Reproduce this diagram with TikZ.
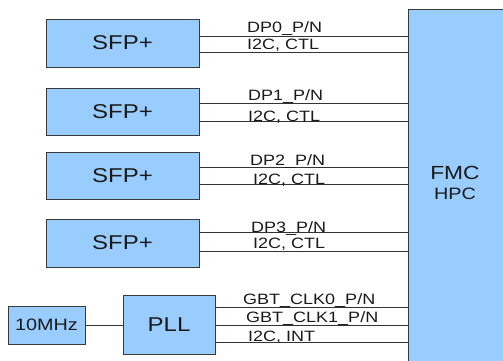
\documentclass[tikz,border=0pt]{standalone}
\usepackage{fontspec}
\setmainfont[FakeStretch=1.2]{Liberation Sans}
\definecolor{boxfill}{HTML}{99CCFF}
\definecolor{boxline}{HTML}{3A3A3A}
\definecolor{wire}{HTML}{333333}
\definecolor{txt}{HTML}{1A1A1A}
\begin{document}
\begin{tikzpicture}[x=1pt,y=-1pt,
  blk/.style={draw=boxline,fill=boxfill,line width=1pt,inner sep=0pt,text=txt},
  sfpbox/.style={blk,minimum width=153pt,minimum height=48pt,font=\fontsize{20}{20}\selectfont},
  wirestyle/.style={draw=wire,line width=0.8pt},
  lbl/.style={anchor=base west,inner sep=0pt,text=txt,font=\fontsize{15}{15}\selectfont}]
\useasboundingbox (0,0) rectangle (503,360);
\clip (0,0) rectangle (503,360);
\fill[white] (0,0) rectangle (503,360);
% FMC
\node[blk,anchor=north west,minimum width=100pt,minimum height=356pt] (fmc) at (408,9) {};
\node[text=txt,font=\fontsize{19}{19}\selectfont,anchor=base,inner sep=0pt] (fmct) at (455,179) {FMC};
\node[text=txt,font=\fontsize{16.5}{16.5}\selectfont,anchor=base,inner sep=0pt] (hpct) at (455,199) {HPC};
% SFP boxes
\node[sfpbox] (sfp1) at (122.5,43) {SFP+};
\node[sfpbox,minimum height=47pt] (sfp2) at (122.5,111.5) {SFP+};
\node[sfpbox,minimum height=47pt] (sfp3) at (122.5,175.5) {SFP+};
\node[sfpbox] (sfp4) at (122.5,243) {SFP+};
% clock
\node[blk,minimum width=77pt,minimum height=38pt,font=\fontsize{16.5}{16.5}\selectfont] (osc) at (46.5,325) {10MHz};
\node[blk,minimum width=92pt,minimum height=59pt,font=\fontsize{20}{20}\selectfont] (pll) at (169,324.5) {PLL};
% wires
\draw[wirestyle] (sfp1.east |- 0,36) -- (fmc.west |- 0,36);
\draw[wirestyle] (sfp1.east |- 0,52) -- (fmc.west |- 0,52);
\draw[wirestyle] (sfp2.east |- 0,103) -- (fmc.west |- 0,103);
\draw[wirestyle] (sfp2.east |- 0,121) -- (fmc.west |- 0,121);
\draw[wirestyle] (sfp3.east |- 0,167) -- (fmc.west |- 0,167);
\draw[wirestyle] (sfp3.east |- 0,184) -- (fmc.west |- 0,184);
\draw[wirestyle] (sfp4.east |- 0,232) -- (fmc.west |- 0,232);
\draw[wirestyle] (sfp4.east |- 0,251) -- (fmc.west |- 0,251);
\draw[wirestyle] (pll.east |- 0,307) -- (fmc.west |- 0,307);
\draw[wirestyle] (pll.east |- 0,325) -- (fmc.west |- 0,325);
\draw[wirestyle] (pll.east |- 0,342) -- (fmc.west |- 0,342);
\draw[wirestyle] (osc.east) -- (pll.west |- osc.east);
% labels
\node[lbl] (l1a) at (247,32) {DP0\_P/N};
\node[lbl] (l1b) at (247,49) {I2C, CTL};
\node[lbl] (l2a) at (248,100) {DP1\_P/N};
\node[lbl] (l2b) at (248,121) {I2C, CTL};
\node[lbl] (l3a) at (250,165) {DP2\_P/N};
\node[lbl] (l3b) at (253,184) {I2C, CTL};
\node[lbl] (l4a) at (251,232) {DP3\_P/N};
\node[lbl] (l4b) at (253,248) {I2C, CTL};
\node[lbl] (l5a) at (243,304) {GBT\_CLK0\_P/N};
\node[lbl] (l5b) at (246,322) {GBT\_CLK1\_P/N};
\node[lbl] (l5c) at (248,341) {I2C, INT};
\end{tikzpicture}
\end{document}
